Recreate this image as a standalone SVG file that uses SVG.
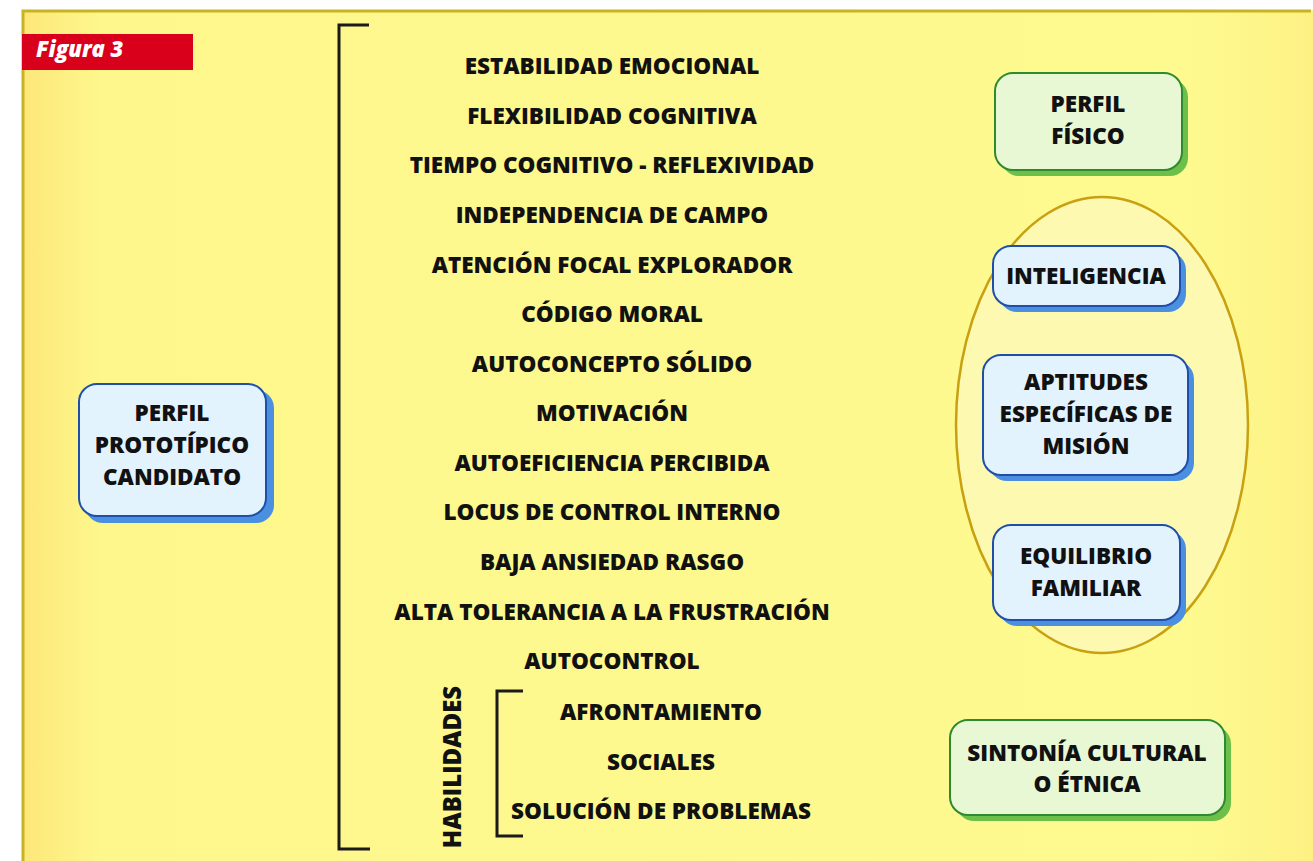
<svg xmlns="http://www.w3.org/2000/svg" width="1313" height="861" viewBox="0 0 1313 861">
<defs>
<linearGradient id="bg" x1="0" y1="0" x2="1" y2="0">
<stop offset="0" stop-color="#fde77a"/>
<stop offset="0.06" stop-color="#fdf78c"/>
<stop offset="0.9" stop-color="#fefa90"/>
<stop offset="1" stop-color="#fdf184"/>
</linearGradient>
<style>
.t{font-family:"Open Sans","Liberation Sans",sans-serif;font-weight:800;font-size:22.5px;fill:#111;text-anchor:middle}
.blue{fill:#e3f3fd;stroke:#1f4fa8;stroke-width:2}
.bsh{fill:#4b8fe0}
.green{fill:#e8f8d4;stroke:#2e8a2e;stroke-width:2}
.gsh{fill:#6cc04a}
.br{fill:none;stroke:#1a1a1a;stroke-width:3}
</style>
</defs>
<rect x="0" y="0" width="1313" height="861" fill="#ffffff"/>
<rect x="22" y="10" width="1291" height="851" fill="url(#bg)"/>
<path d="M23 861 V11 H1311" fill="none" stroke="#c8b423" stroke-width="3"/>
<g id="figura-label">
<rect x="22" y="34" width="171" height="36" fill="#d9001b"/>
<text x="36" y="57" font-family="'Open Sans','Liberation Sans',sans-serif" font-weight="800" font-style="italic" font-size="22" fill="#ffffff">Figura 3</text>
</g>
<g id="connectors">
<path class="br" d="M369 25 H339 V849 H370"/>
<path class="br" d="M523 691 H497 V836 H523"/>
</g>
<g id="perfil-prototipico">
<rect class="bsh" x="85" y="390" width="189" height="133" rx="18"/>
<rect class="blue" x="79" y="384" width="187" height="132" rx="18"/>
<text class="t" x="172" y="421">PERFIL</text>
<text class="t" x="172" y="453">PROTOTÍPICO</text>
<text class="t" x="172" y="485">CANDIDATO</text>
</g>
<g id="rasgos">
<text class="t" x="612" y="74">ESTABILIDAD EMOCIONAL</text>
<text class="t" x="612" y="124">FLEXIBILIDAD COGNITIVA</text>
<text class="t" x="612" y="173">TIEMPO COGNITIVO - REFLEXIVIDAD</text>
<text class="t" x="612" y="223">INDEPENDENCIA DE CAMPO</text>
<text class="t" x="612" y="273">ATENCIÓN FOCAL EXPLORADOR</text>
<text class="t" x="612" y="322">CÓDIGO MORAL</text>
<text class="t" x="612" y="372">AUTOCONCEPTO SÓLIDO</text>
<text class="t" x="612" y="421">MOTIVACIÓN</text>
<text class="t" x="612" y="471">AUTOEFICIENCIA PERCIBIDA</text>
<text class="t" x="612" y="520">LOCUS DE CONTROL INTERNO</text>
<text class="t" x="612" y="570">BAJA ANSIEDAD RASGO</text>
<text class="t" x="612" y="620">ALTA TOLERANCIA A LA FRUSTRACIÓN</text>
<text class="t" x="612" y="669">AUTOCONTROL</text>
</g>
<g id="habilidades">
<text class="t" style="font-size:24px" transform="translate(461 767) rotate(-90)">HABILIDADES</text>
<text class="t" x="661" y="720">AFRONTAMIENTO</text>
<text class="t" x="661" y="770">SOCIALES</text>
<text class="t" x="661" y="819">SOLUCIÓN DE PROBLEMAS</text>
</g>
<g id="perfil-fisico">
<rect class="gsh" x="1001" y="79" width="187" height="97" rx="18"/>
<rect class="green" x="995" y="73" width="187" height="97" rx="18"/>
<text class="t" x="1088" y="112">PERFIL</text>
<text class="t" x="1088" y="144">FÍSICO</text>
</g>
<g id="ovalo">
<ellipse cx="1102" cy="425" rx="146" ry="228" fill="#fef9b0" stroke="#c8a010" stroke-width="2.5"/>
</g>
<g id="inteligencia">
<rect class="bsh" x="999" y="252" width="187" height="60" rx="18"/>
<rect class="blue" x="993" y="246" width="187" height="60" rx="18"/>
<text class="t" x="1086" y="284">INTELIGENCIA</text>
</g>
<g id="aptitudes">
<rect class="bsh" x="989" y="361" width="205" height="120" rx="18"/>
<rect class="blue" x="983" y="355" width="205" height="120" rx="18"/>
<text class="t" x="1086" y="390">APTITUDES</text>
<text class="t" x="1086" y="422">ESPECÍFICAS DE</text>
<text class="t" x="1086" y="454">MISIÓN</text>
</g>
<g id="equilibrio">
<rect class="bsh" x="999" y="531" width="187" height="95" rx="18"/>
<rect class="blue" x="993" y="525" width="187" height="95" rx="18"/>
<text class="t" x="1086" y="564">EQUILIBRIO</text>
<text class="t" x="1086" y="596">FAMILIAR</text>
</g>
<g id="sintonia">
<rect class="gsh" x="956" y="726" width="275" height="95" rx="18"/>
<rect class="green" x="950" y="720" width="275" height="95" rx="18"/>
<text class="t" x="1087" y="761">SINTONÍA CULTURAL</text>
<text class="t" x="1087" y="792">O ÉTNICA</text>
</g>
</svg>
